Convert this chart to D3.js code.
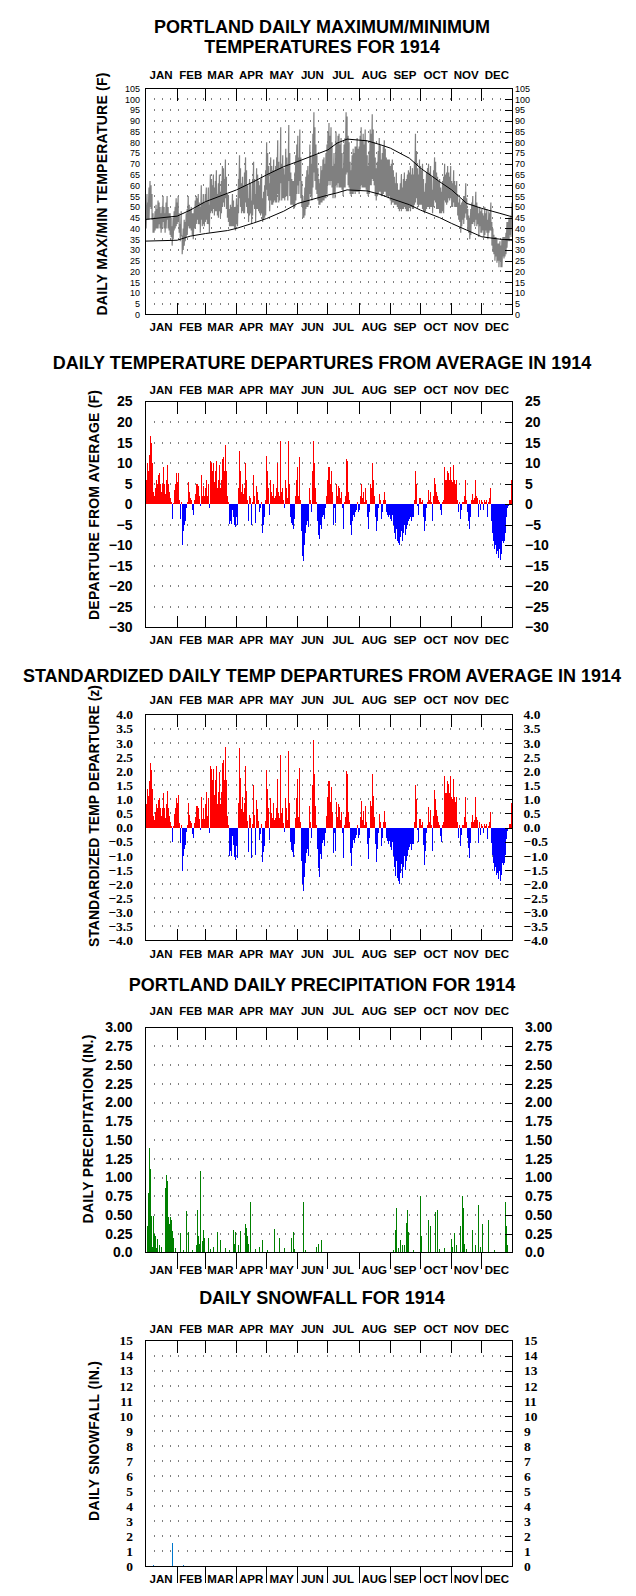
<!DOCTYPE html>
<html>
<head>
<meta charset="utf-8">
<script src="https://cdnjs.cloudflare.com/ajax/libs/d3/7.8.5/d3.min.js"></script>
<style>
  body { margin: 0; background: #fff; }
  svg { display: block; }
</style>
</head>
<body>
<div id="chart"></div>
<script>
const months = ['JAN', 'FEB', 'MAR', 'APR', 'MAY', 'JUN', 'JUL', 'AUG', 'SEP', 'OCT', 'NOV', 'DEC']
const monthDays = [31, 28, 31, 30, 31, 30, 31, 31, 30, 31, 30, 31]

// daily max / min temperature (F), one row per month
const tmax = [
  51,56,52,59,62,60,56,47,45,48,51,49,53,52,50,47,50,55,50,47,52,55,50,47,47,45,41,45,48,50,54,
  52,55,47,42,48,36,40,44,43,47,49,55,51,49,50,47,47,49,53,55,54,56,52,50,60,52,56,52,
  56,59,53,59,51,65,63,60,65,59,62,67,56,61,65,57,62,69,68,63,72,64,56,55,49,51,50,56,53,50,50,
  54,51,63,74,68,61,64,60,66,73,67,60,54,63,61,53,63,71,63,56,68,65,62,60,63,65,54,57,60,67,
  80,75,69,61,73,69,67,72,67,69,73,81,71,68,87,70,74,68,65,77,73,70,88,75,66,63,62,62,66,74,79,
  83,73,86,73,62,55,53,59,64,67,69,65,79,74,70,84,94,87,79,74,68,63,61,69,67,72,73,70,75,79,
  85,89,83,87,80,69,75,70,85,80,83,84,79,82,75,68,79,82,94,92,83,80,71,67,74,77,75,78,78,82,77,
  78,83,87,81,84,79,86,81,74,69,76,86,84,93,86,80,73,68,71,76,82,79,72,75,78,81,77,73,72,72,72,
  69,70,72,67,64,61,66,61,58,58,61,65,59,63,66,62,63,65,67,66,69,65,68,65,71,84,76,68,65,72,
  69,67,70,63,57,61,66,68,70,66,69,64,58,67,73,71,66,64,62,63,59,57,62,64,70,65,66,69,66,64,69,
  62,61,67,62,60,62,56,52,54,51,52,53,55,55,61,54,49,46,45,49,52,55,51,51,57,52,50,47,50,48,
  49,47,46,50,47,49,44,48,47,52,43,40,37,36,36,35,33,33,34,32,35,36,36,36,38,43,43,45,45,46,52
]
const tmin = [
  40,44,44,44,50,49,44,38,38,39,40,40,40,42,40,38,40,43,40,38,40,44,40,39,37,36,32,35,39,40,41,
  42,43,38,34,37,28,30,32,34,36,37,41,40,40,39,37,35,40,40,42,44,42,42,38,44,41,42,41,
  43,44,42,42,38,47,48,47,49,46,48,48,46,45,48,45,47,50,52,50,54,49,45,43,41,41,41,41,41,40,39,
  42,41,47,54,50,47,48,47,47,52,50,47,43,46,47,42,46,51,49,43,49,49,48,47,46,47,43,44,45,46,
  58,55,53,48,53,51,51,52,53,52,52,56,52,53,61,53,54,54,53,55,55,53,62,55,51,51,51,49,50,53,56,
  60,56,62,54,50,45,45,46,49,50,50,51,56,55,53,59,66,62,58,56,53,51,51,52,52,53,53,54,54,56,
  60,62,60,62,59,54,56,54,60,59,61,59,59,59,58,55,59,59,65,66,60,59,56,55,56,56,57,56,57,57,57,
  56,58,60,59,59,59,59,58,56,55,56,60,60,63,62,60,55,53,55,56,57,57,55,55,56,57,57,55,55,54,55,
  53,51,52,52,51,51,51,50,49,48,49,48,49,49,50,49,48,48,48,50,48,50,49,49,51,52,54,51,50,51,
  51,51,49,48,47,48,49,50,50,49,50,50,47,50,53,52,49,49,49,47,47,47,48,47,53,52,51,52,54,53,54,
  50,50,52,50,50,50,46,44,43,38,41,44,42,45,47,44,39,38,35,37,42,42,43,41,44,41,42,36,41,38,
  38,39,36,37,39,38,35,38,39,39,32,29,28,25,27,24,25,22,25,22,22,27,26,27,28,31,35,34,37,36,40
]

// normal max / min, read at these days of the year
const normDays = [0, 31, 44, 59, 81, 90, 107, 120, 137, 151, 181, 190, 200, 220, 233, 243, 262, 273, 292, 304, 319, 334, 352, 364]
const normMax = [44.2, 45.7, 48.5, 52.4, 56.3, 57.9, 61.7, 64.9, 68.7, 71.1, 76.5, 79.6, 81.5, 80.7, 78.9, 77.3, 72.6, 68, 61.7, 57.9, 51.6, 49.3, 47, 45.4]
const normMin = [34.1, 34.5, 36.4, 37.6, 39, 40, 42.5, 44.6, 48, 51.6, 55.5, 56.5, 57.9, 57.4, 55.8, 54, 51, 48.5, 45, 42.3, 39.2, 36.1, 35, 34.5]

// daily departure from average (F)
const departure = [
  6,10,8,12,16.7,15,10,3,2,4,6,5,7,7.5,5,3,5,9,5,2.5,6,9.5,5,3,1.5,0.5,-3.7,0.3,3.5,5,7.5,
  5.5,7.5,1,-3.5,0.5,-10,-6.5,-5,-4,-1,0.5,5.5,3,1.5,1,-1.5,-2.5,1,2.5,5,5,4.5,2,-0.5,7,2,4.5,2,
  4,6,2,5,-1,10.5,10,8,10,5.5,8,10.5,4,6,9.5,4,6,11,11.5,8,14.3,8,2,0.5,-4.8,-4,-4.8,-1.5,-3,-5,-5.5,
  -3,-5,4,13,8,3,5,2.5,4,10,6,1,-4,2,1.5,-5,0.5,7,2,-4.5,4.5,3,1,-2,-1,0.5,-7,-5,-3,1,
  11.7,8,4,-2.5,6,3,2,5,1.5,2,4,10,3,2,15.5,3,4,1,-1,6,4,1.5,15.3,5,-3,-4.5,-5,-6,-3.5,2,6,
  9,2,11.5,1,-6.5,-12.5,-13.7,-10,-7,-5,-4,-5.5,4,1,-2,8,15.5,10,4,0.5,-4,-7.5,-8.5,-5,-6,-3,-2.5,-3.5,-1,2,
  6,9,5,8,3,-5,-1,-4.5,5,2,4.5,4,1.5,3,-1,-6,0.5,2,11,10.5,3,1,-5,-7.5,-4,-2.5,-3,-2,-1.5,0.5,-2,
  -1.5,2,5,1.5,3,0.5,4,1,-3,-6,-2,5,4,10,6,2,-3,-6.5,-4,-1,2.5,1,-3.5,-2,1,3,1,-2,-2.5,-3,-2.5,
  -3.5,-4,-2.5,-5,-7,-8.5,-6,-9,-9.5,-10,-8,-6.5,-9,-7,-5,-7.5,-6,-5,-4,-3.5,-3,-4,-3,-3,1,8,5,-0.5,-2.5,1.5,
  1.5,0.5,1,-3,-6.5,-4,-1,0.5,3.5,1,3,0.5,-4,2,6.5,5,3,2,1,0.5,-1.5,-2.5,0.5,1,9,6,6,8,7.5,6,9,
  6,5.5,9.5,6,5,6,1,-2,0.5,-3.5,-1.5,0.5,0.5,2,6,1,-2,-4,-6,-3,1,2.5,1,1.5,6,2,1.5,-3,1,-1.5,
  1,0.5,-1.5,1,0.5,1,-3,0.5,1.5,4,-4,-7,-9,-11,-10,-12,-11.5,-13,-11,-13.5,-12,-9,-9.5,-9,-7,-3,-1,-0.5,1,1,6
]

// standardized daily departure (z)
const zscore = [
  0.82,1.37,1.10,1.64,2.29,2.05,1.37,0.41,0.27,0.55,0.82,0.68,0.96,1.03,0.68,0.41,0.68,1.23,0.68,0.34,0.82,1.30,0.68,0.41,0.21,0.07,-0.51,0.04,0.48,0.68,1.03,
  0.85,1.15,0.15,-0.54,0.08,-1.54,-1.0,-0.77,-0.62,-0.15,0.08,0.85,0.46,0.23,0.15,-0.23,-0.38,0.15,0.38,0.77,0.77,0.69,0.31,-0.08,1.08,0.31,0.69,0.31,
  0.83,1.25,0.42,1.04,-0.21,2.19,2.08,1.67,2.08,1.15,1.67,2.19,0.83,1.25,1.98,0.83,1.25,2.29,2.40,1.67,2.85,1.67,0.42,0.10,-1.0,-0.83,-1.0,-0.31,-0.63,-1.04,-1.15,
  -0.65,-1.09,0.87,2.83,1.74,0.65,1.09,0.54,0.87,2.17,1.30,0.22,-0.87,0.43,0.33,-1.09,0.11,1.52,0.43,-0.98,0.98,0.65,0.22,-0.43,-0.22,0.11,-1.22,-0.85,-0.65,0.22,
  2.02,1.38,0.69,-0.43,1.03,0.52,0.34,0.86,0.26,0.34,0.69,1.72,0.52,0.34,2.55,0.52,0.69,0.17,-0.17,1.03,0.69,0.26,2.72,0.86,-0.52,-0.78,-0.86,-1.03,-0.60,0.34,1.03,
  1.70,0.38,2.10,0.19,-1.2,-2.0,-2.25,-1.75,-1.25,-0.9,-0.75,-1.0,0.75,0.19,-0.38,1.5,3.1,1.9,0.75,0.1,-0.75,-1.45,-1.75,-0.95,-1.1,-0.55,-0.45,-0.65,-0.2,0.4,
  1.09,1.64,0.91,1.45,0.55,-0.91,-0.18,-0.82,0.91,0.36,0.82,0.73,0.27,0.55,-0.18,-1.09,0.09,0.36,2.0,1.91,0.55,0.18,-0.91,-1.36,-0.73,-0.45,-0.55,-0.36,-0.27,0.09,-0.36,
  -0.28,0.38,0.94,0.28,0.57,0.09,0.75,0.19,-0.57,-1.13,-0.38,0.94,0.75,1.89,1.13,0.38,-0.57,-1.23,-0.75,-0.19,0.47,0.19,-0.66,-0.38,0.19,0.57,0.19,-0.38,-0.47,-0.57,-0.47,
  -0.7,-0.8,-0.5,-1.0,-1.4,-1.7,-1.2,-1.8,-1.9,-2.0,-1.6,-1.3,-1.8,-1.4,-1.0,-1.5,-1.2,-1.0,-0.8,-0.7,-0.6,-0.8,-0.6,-0.6,0.2,1.5,1.0,-0.1,-0.5,0.3,
  0.31,0.10,0.20,-0.61,-1.33,-0.82,-0.20,0.10,0.71,0.20,0.61,0.10,-0.82,0.41,1.33,1.02,0.61,0.41,0.20,0.10,-0.31,-0.51,0.10,0.20,1.84,1.22,1.22,1.63,1.53,1.22,1.84,
  1.09,1.0,1.73,1.09,0.91,1.09,0.18,-0.36,0.09,-0.64,-0.27,0.09,0.09,0.36,1.09,0.18,-0.36,-0.73,-1.09,-0.55,0.18,0.45,0.18,0.27,1.09,0.36,0.27,-0.55,0.18,-0.27,
  0.14,0.07,-0.21,0.14,0.07,0.14,-0.42,0.07,0.21,0.56,-0.56,-0.99,-1.27,-1.55,-1.41,-1.69,-1.62,-1.83,-1.55,-1.90,-1.69,-1.27,-1.34,-1.27,-0.99,-0.42,-0.14,-0.07,0.14,0.14,0.85
]

// daily precipitation (in.), only the days with any
const precipDays = [1,2,3,4,5,6,7,8,9,10,11,13,15,19,20,21,22,23,24,25,26,27,29,
  34,37,40,42,46,50,51,52,53,54,56,57,58,
  62,64,67,71,74,79,83,87,88,89,
  92,94,99,100,101,102,104,109,113,116,
  121,128,133,138,145,147,148,
  157,159,170,172,175,
  246,248,249,251,253,255,257,259,260,261,266,273,274,
  281,283,288,290,292,297,
  304,305,307,309,313,315,316,317,319,325,328,331,333,
  335,341,347,358,359,360]
const precipAmt = [0.36,0.8,1.4,1.12,0.49,0.08,0.49,0.25,0.22,0.06,0.18,0.1,0.07,0.86,1.04,0.95,0.47,0.38,0.47,0.44,0.29,0.2,0.06,
  0.26,0.04,0.55,0.28,0.04,0.1,0.57,0.22,0.12,1.09,0.15,0.3,0.2,
  0.2,0.05,0.08,0.27,0.17,0.06,0.04,0.3,0.12,0.28,
  0.1,0.29,0.38,0.33,0.22,0.12,0.68,0.05,0.08,0.17,
  0.04,0.32,0.2,0.06,0.19,0.28,0.05,
  0.67,0.03,0.08,0.12,0.17,
  0.04,0.3,0.59,0.06,0.17,0.1,0.1,0.4,0.57,0.27,0.04,0.75,0.22,
  0.44,0.36,0.54,0.57,0.05,0.06,
  0.18,0.08,0.26,0.1,0.35,0.75,0.6,0.12,0.05,0.3,0.1,0.63,0.08,
  0.38,0.43,0.04,0.67,0.35,0.1]

// daily snowfall (in.)
const snowDays = [7, 26, 37, 353]
const snowAmt = [0.08, 1.55, 0.08, 0.05]

const width = 636
const height = 1596
const sans = "'Liberation Sans', Arial, sans-serif"
const serif = "'Liberation Serif', 'Times New Roman', serif"

const svg = d3.select('#chart').append('svg').attr('width', width).attr('height', height)

const x = d3.scaleLinear().domain([0, 365]).range([145.5, 512.5])
const monthStart = d3.cumsum([0].concat(monthDays.slice(0, 11)))
const monthMid = monthStart.map((s, i) => s + monthDays[i] / 2)
const innerStarts = monthStart.slice(1)

const panels = [
  { title: ['PORTLAND DAILY MAXIMUM/MINIMUM', 'TEMPERATURES FOR 1914'], titleY: 33,
    top: 88.5, bottom: 314.5, domain: [0, 105], step: 5, fmt: d3.format('d'),
    labelFont: sans, labelSize: 9, labelWeight: 'normal', leftX: 140, rightX: 515,
    monthTopY: 79, monthBotY: 331, bottomOut: false,
    yTitle: 'DAILY MAX/MIN TEMPERATURE (F)', yTitleX: 102, yTitleY: 194, yTitleLen: 243 },
  { title: ['DAILY TEMPERATURE DEPARTURES FROM AVERAGE IN 1914'], titleY: 369,
    top: 401.5, bottom: 627.5, domain: [-30, 25], step: 5, fmt: d3.format('d'),
    labelFont: sans, labelSize: 14, labelWeight: 'bold', leftX: 132.5, rightX: 525,
    monthTopY: 394, monthBotY: 644, bottomOut: false,
    yTitle: 'DEPARTURE FROM AVERAGE (F)', yTitleX: 94, yTitleY: 505, yTitleLen: 230 },
  { title: ['STANDARDIZED DAILY TEMP DEPARTURES FROM AVERAGE IN 1914'], titleY: 682,
    top: 714.5, bottom: 940.5, domain: [-4, 4], step: 0.5, fmt: d3.format('.1f'),
    labelFont: serif, labelSize: 13.5, labelWeight: 'bold', leftX: 133, rightX: 523.5,
    monthTopY: 704, monthBotY: 957.5, bottomOut: false,
    yTitle: 'STANDARDIZED TEMP DEPARTURE (z)', yTitleX: 94, yTitleY: 816, yTitleLen: 262 },
  { title: ['PORTLAND DAILY PRECIPITATION FOR 1914'], titleY: 991,
    top: 1027.5, bottom: 1252.5, domain: [0, 3], step: 0.25, fmt: v => v === 0 ? '0.0' : d3.format('.2f')(v),
    labelFont: sans, labelSize: 14, labelWeight: 'bold', leftX: 132.5, rightX: 525,
    monthTopY: 1015, monthBotY: 1274, bottomOut: true,
    yTitle: 'DAILY PRECIPITATION (IN.)', yTitleX: 87.5, yTitleY: 1129, yTitleLen: 189 },
  { title: ['DAILY SNOWFALL FOR 1914'], titleY: 1304,
    top: 1340.5, bottom: 1566.5, domain: [0, 15], step: 1, fmt: d3.format('d'),
    labelFont: serif, labelSize: 13.5, labelWeight: 'bold', leftX: 133, rightX: 524,
    monthTopY: 1333, monthBotY: 1583, bottomOut: true,
    yTitle: 'DAILY SNOWFALL (IN.)', yTitleX: 94, yTitleY: 1441, yTitleLen: 160 }
]

const scales = panels.map(p => {
  const y = d3.scaleLinear().domain(p.domain).range([p.bottom, p.top])
  const g = svg.append('g')
  const levels = d3.range(p.domain[0], p.domain[1] + p.step / 2, p.step).map(v => +v.toFixed(2))
  const inner = levels.filter(v => v !== p.domain[0] && v !== p.domain[1])

  p.title.forEach((t, i) => {
    g.append('text').attr('x', 322).attr('y', p.titleY + i * 20)
      .attr('text-anchor', 'middle').attr('font-family', sans)
      .attr('font-weight', 'bold').attr('font-size', 18).text(t)
  })

  // dotted grid
  const dotCols = d3.range(8, 360, 8.2)
  inner.filter(v => v !== 0).forEach(v => {
    g.append('g').selectAll('rect').data(dotCols).join('rect')
      .attr('x', d => Math.round(x(d))).attr('y', Math.round(y(v)) - 0.5)
      .attr('width', 1).attr('height', 1).attr('fill', '#000')
  })

  const plot = g.append('g')

  // box
  g.append('rect').attr('x', x(0)).attr('y', p.top).attr('width', x(365) - x(0))
    .attr('height', p.bottom - p.top).attr('fill', 'none').attr('stroke', '#000')

  // inward ticks on the right edge
  g.append('g').attr('transform', `translate(${x(365)},0)`)
    .call(d3.axisLeft(y).tickValues(inner).tickSize(8).tickFormat(''))
    .call(a => a.select('.domain').remove())

  // month ticks
  g.append('g').attr('transform', `translate(0,${p.top})`)
    .call(d3.axisBottom(x).tickValues(innerStarts).tickSize(12).tickFormat(''))
    .call(a => a.select('.domain').remove())
  if (p.bottomOut) {
    g.append('g').attr('transform', `translate(0,${p.bottom})`)
      .call(d3.axisBottom(x).tickValues(innerStarts).tickSize(16).tickFormat(''))
      .call(a => a.select('.domain').remove())
  } else {
    g.append('g').attr('transform', `translate(0,${p.bottom})`)
      .call(d3.axisTop(x).tickValues(innerStarts).tickSize(12).tickFormat(''))
      .call(a => a.select('.domain').remove())
  }
  g.selectAll('.tick line').attr('stroke', '#000').attr('shape-rendering', 'crispEdges')

  // month labels
  ;[p.monthTopY, p.monthBotY].forEach(ty => {
    g.append('g').selectAll('text').data(months).join('text')
      .attr('x', (d, i) => x(monthMid[i])).attr('y', ty)
      .attr('text-anchor', 'middle').attr('font-family', sans)
      .attr('font-weight', 'bold').attr('font-size', 11.5).text(d => d)
  })

  // y labels, left and right
  const leftAxis = g.append('g').attr('transform', `translate(${p.leftX},0)`)
    .call(d3.axisLeft(y).tickValues(levels).tickSize(0).tickPadding(0).tickFormat(p.fmt))
  const rightAxis = g.append('g').attr('transform', `translate(${p.rightX},0)`)
    .call(d3.axisRight(y).tickValues(levels).tickSize(0).tickPadding(0).tickFormat(p.fmt))
  ;[leftAxis, rightAxis].forEach(a => {
    a.select('.domain').remove()
    a.selectAll('text').attr('font-family', p.labelFont).attr('font-size', p.labelSize)
      .attr('font-weight', p.labelWeight).attr('fill', '#000')
  })

  // y title
  g.append('text').attr('transform', `translate(${p.yTitleX},${p.yTitleY}) rotate(-90)`)
    .attr('text-anchor', 'middle').attr('dy', '0.36em').attr('font-family', sans)
    .attr('font-weight', 'bold').attr('font-size', 14)
    .attr('textLength', p.yTitleLen).attr('lengthAdjust', 'spacing').text(p.yTitle)

  return { y, plot }
})

// panel 1: max/min band and normals
{
  const { y, plot } = scales[0]
  const pts = []
  tmax.forEach((v, i) => { pts.push([x(i + 0.5), y(v)]); pts.push([x(i + 0.5), y(tmin[i])]) })
  plot.append('path').attr('d', d3.line()(pts)).attr('fill', 'none')
    .attr('stroke', '#808080').attr('stroke-width', 1.2)
  const normLine = vals => d3.line().x((d, i) => x(normDays[i] + 0.5)).y(d => y(d))(vals)
  plot.append('path').attr('d', normLine(normMax)).attr('fill', 'none').attr('stroke', '#000')
  plot.append('path').attr('d', normLine(normMin)).attr('fill', 'none').attr('stroke', '#000')
}

// panels 2 and 3: departure bars
;[[1, departure], [2, zscore]].forEach(([k, vals]) => {
  const { y, plot } = scales[k]
  plot.selectAll('rect').data(vals).join('rect')
    .attr('x', (d, i) => x(i)).attr('width', (d, i) => x(i + 1) - x(i))
    .attr('y', d => y(Math.max(0, d))).attr('height', d => Math.abs(y(d) - y(0)))
    .attr('fill', d => d >= 0 ? '#ff0000' : '#0000ff')
    .attr('shape-rendering', 'crispEdges')
})

// panel 4: precipitation
{
  const { y, plot } = scales[3]
  plot.selectAll('rect').data(precipAmt).join('rect')
    .attr('x', (d, i) => Math.round(x(precipDays[i]))).attr('width', 1)
    .attr('y', d => y(d)).attr('height', d => y(0) - y(d))
    .attr('fill', '#008000').attr('shape-rendering', 'crispEdges')
}

// panel 5: snowfall
{
  const { y, plot } = scales[4]
  plot.selectAll('rect').data(snowAmt).join('rect')
    .attr('x', (d, i) => Math.round(x(snowDays[i]))).attr('width', 1)
    .attr('y', d => y(d)).attr('height', d => y(0) - y(d))
    .attr('fill', '#0077cc').attr('shape-rendering', 'crispEdges')
}
</script>
</body>
</html>
